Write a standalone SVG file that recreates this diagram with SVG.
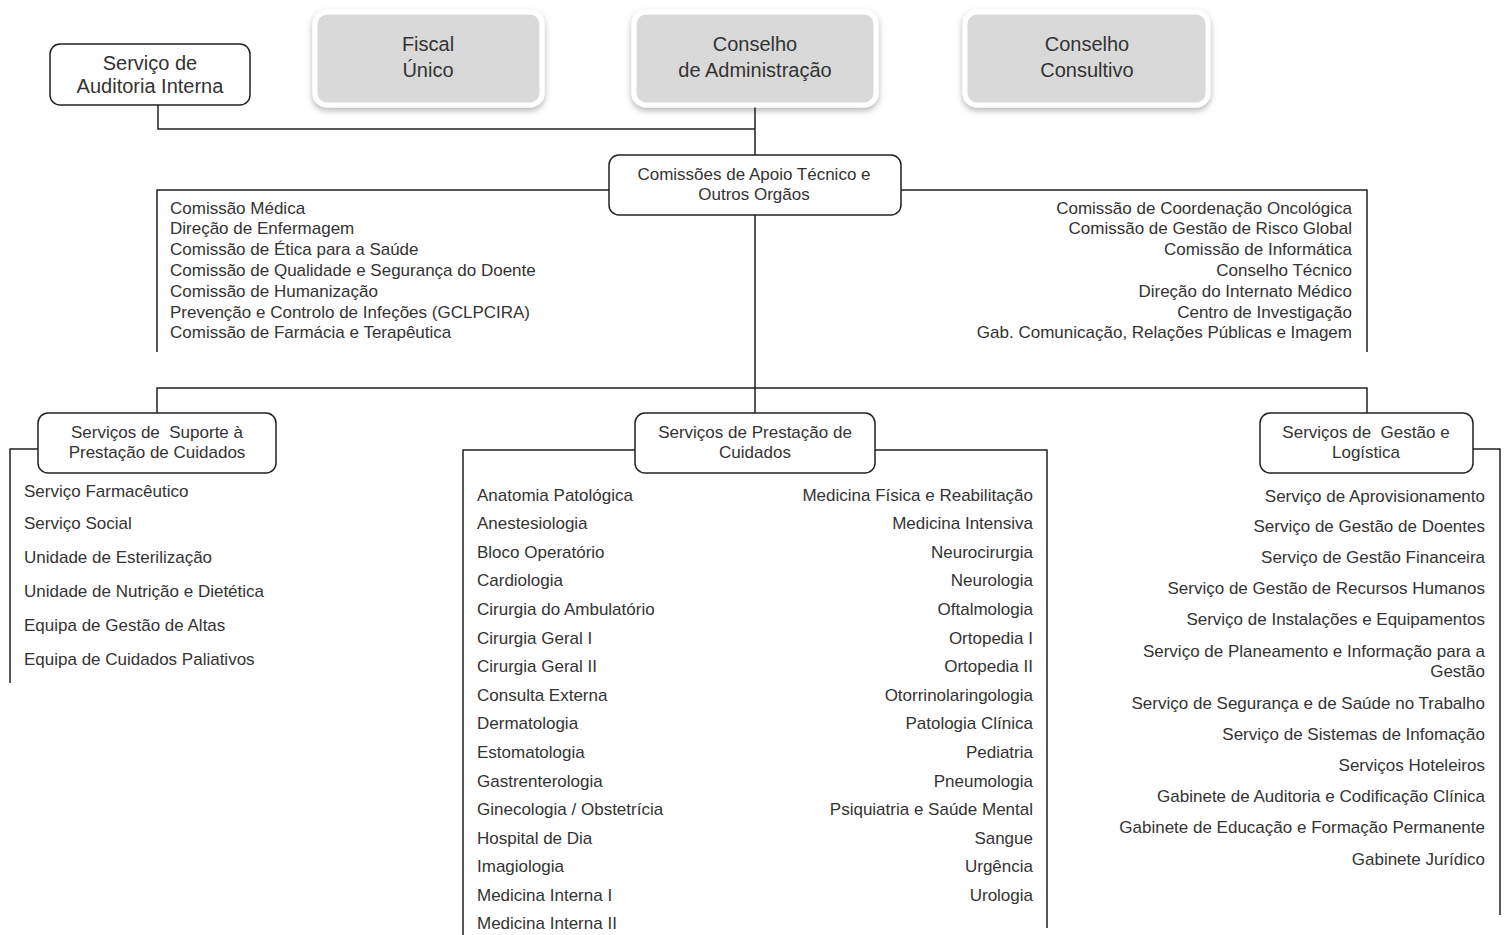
<svg xmlns="http://www.w3.org/2000/svg" width="1505" height="935" viewBox="0 0 1505 935">
<defs>
<filter id="sh" x="-10%" y="-10%" width="120%" height="130%">
<feDropShadow dx="0" dy="3" stdDeviation="3" flood-color="#000" flood-opacity="0.3"/>
</filter>
<style>
.t{font-family:"Liberation Sans",Arial,sans-serif;fill:#333;}
.big{font-size:20px;text-anchor:middle;}
.bx{font-size:17px;text-anchor:middle;}
.ls{font-size:17px;}
.r{text-anchor:end;}
.pre{white-space:pre;}
.node{fill:#fff;stroke:#222;stroke-width:1.5;}
.grey{fill:#d9d9d9;stroke:#fff;stroke-width:5;filter:url(#sh);}
.conn{fill:none;stroke:#222;stroke-width:1.5;}
</style>
</defs>
<rect width="1505" height="935" fill="#fff"/>

<g id="connectors">
<path class="conn" d="M158,105 V129 H755"/>
<path class="conn" d="M755,105 V155"/>
<path class="conn" d="M609,190 H157 V352"/>
<path class="conn" d="M901,190 H1367 V352"/>
<path class="conn" d="M755,215 V413"/>
<path class="conn" d="M157,413 V388 H1367 V413"/>
<path class="conn" d="M38,449 H10 V683"/>
<path class="conn" d="M635,450 H463 V935"/>
<path class="conn" d="M875,450 H1047 V928"/>
<path class="conn" d="M1473,449 H1500 V915"/>
</g>

<g id="auditoria">
<rect class="node" x="50" y="44" width="200" height="61" rx="10"/>
<text class="t big" x="150" y="70">Serviço de</text>
<text class="t big" x="150" y="93">Auditoria Interna</text>
</g>

<g id="fiscal">
<rect class="grey" x="315" y="12" width="227" height="93" rx="12"/>
<text class="t big" x="428" y="51">Fiscal</text>
<text class="t big" x="428" y="77">Único</text>
</g>

<g id="conselho-admin">
<rect class="grey" x="634" y="12" width="242" height="93" rx="12"/>
<text class="t big" x="755" y="51">Conselho</text>
<text class="t big" x="755" y="77">de Administração</text>
</g>

<g id="conselho-consultivo">
<rect class="grey" x="965" y="12" width="243" height="93" rx="12"/>
<text class="t big" x="1087" y="51">Conselho</text>
<text class="t big" x="1087" y="77">Consultivo</text>
</g>

<g id="comissoes">
<rect class="node" x="609" y="155" width="292" height="60" rx="10"/>
<text class="t bx" x="754" y="180">Comissões de Apoio Técnico e</text>
<text class="t bx" x="754" y="200">Outros Orgãos</text>
</g>

<g id="comissoes-esq">
<text class="t ls" x="170" y="214">Comissão Médica</text>
<text class="t ls" x="170" y="234">Direção de Enfermagem</text>
<text class="t ls" x="170" y="255">Comissão de Ética para a Saúde</text>
<text class="t ls" x="170" y="276">Comissão de Qualidade e Segurança do Doente</text>
<text class="t ls" x="170" y="297">Comissão de Humanização</text>
<text class="t ls" x="170" y="318">Prevenção e Controlo de Infeções (GCLPCIRA)</text>
<text class="t ls" x="170" y="338">Comissão de Farmácia e Terapêutica</text>
</g>

<g id="comissoes-dir">
<text class="t ls r" x="1352" y="214">Comissão de Coordenação Oncológica</text>
<text class="t ls r" x="1352" y="234">Comissão de Gestão de Risco Global</text>
<text class="t ls r" x="1352" y="255">Comissão de Informática</text>
<text class="t ls r" x="1352" y="276">Conselho Técnico</text>
<text class="t ls r" x="1352" y="297">Direção do Internato Médico</text>
<text class="t ls r" x="1352" y="318">Centro de Investigação</text>
<text class="t ls r" x="1352" y="338">Gab. Comunicação, Relações Públicas e Imagem</text>
</g>

<g id="suporte">
<rect class="node" x="38" y="413" width="238" height="60" rx="10"/>
<text class="t bx pre" x="157" y="438">Serviços de  Suporte à</text>
<text class="t bx" x="157" y="458">Prestação de Cuidados</text>
<text class="t ls" x="24" y="497">Serviço Farmacêutico</text>
<text class="t ls" x="24" y="529">Serviço Social</text>
<text class="t ls" x="24" y="563">Unidade de Esterilização</text>
<text class="t ls" x="24" y="597">Unidade de Nutrição e Dietética</text>
<text class="t ls" x="24" y="631">Equipa de Gestão de Altas</text>
<text class="t ls" x="24" y="665">Equipa de Cuidados Paliativos</text>
</g>

<g id="prestacao">
<rect class="node" x="635" y="413" width="240" height="60" rx="10"/>
<text class="t bx" x="755" y="438">Serviços de Prestação de</text>
<text class="t bx" x="755" y="458">Cuidados</text>
<text class="t ls" x="477" y="501">Anatomia Patológica</text>
<text class="t ls" x="477" y="529">Anestesiologia</text>
<text class="t ls" x="477" y="558">Bloco Operatório</text>
<text class="t ls" x="477" y="586">Cardiologia</text>
<text class="t ls" x="477" y="615">Cirurgia do Ambulatório</text>
<text class="t ls" x="477" y="644">Cirurgia Geral I</text>
<text class="t ls" x="477" y="672">Cirurgia Geral II</text>
<text class="t ls" x="477" y="701">Consulta Externa</text>
<text class="t ls" x="477" y="729">Dermatologia</text>
<text class="t ls" x="477" y="758">Estomatologia</text>
<text class="t ls" x="477" y="787">Gastrenterologia</text>
<text class="t ls" x="477" y="815">Ginecologia / Obstetrícia</text>
<text class="t ls" x="477" y="844">Hospital de Dia</text>
<text class="t ls" x="477" y="872">Imagiologia</text>
<text class="t ls" x="477" y="901">Medicina Interna I</text>
<text class="t ls" x="477" y="929">Medicina Interna II</text>
<text class="t ls r" x="1033" y="501">Medicina Física e Reabilitação</text>
<text class="t ls r" x="1033" y="529">Medicina Intensiva</text>
<text class="t ls r" x="1033" y="558">Neurocirurgia</text>
<text class="t ls r" x="1033" y="586">Neurologia</text>
<text class="t ls r" x="1033" y="615">Oftalmologia</text>
<text class="t ls r" x="1033" y="644">Ortopedia I</text>
<text class="t ls r" x="1033" y="672">Ortopedia II</text>
<text class="t ls r" x="1033" y="701">Otorrinolaringologia</text>
<text class="t ls r" x="1033" y="729">Patologia Clínica</text>
<text class="t ls r" x="1033" y="758">Pediatria</text>
<text class="t ls r" x="1033" y="787">Pneumologia</text>
<text class="t ls r" x="1033" y="815">Psiquiatria e Saúde Mental</text>
<text class="t ls r" x="1033" y="844">Sangue</text>
<text class="t ls r" x="1033" y="872">Urgência</text>
<text class="t ls r" x="1033" y="901">Urologia</text>
</g>

<g id="gestao">
<rect class="node" x="1260" y="413" width="213" height="60" rx="10"/>
<text class="t bx pre" x="1366" y="438">Serviços de  Gestão e</text>
<text class="t bx" x="1366" y="458">Logística</text>
<text class="t ls r" x="1485" y="502">Serviço de Aprovisionamento</text>
<text class="t ls r" x="1485" y="532">Serviço de Gestão de Doentes</text>
<text class="t ls r" x="1485" y="563">Serviço de Gestão Financeira</text>
<text class="t ls r" x="1485" y="594">Serviço de Gestão de Recursos Humanos</text>
<text class="t ls r" x="1485" y="625">Serviço de Instalações e Equipamentos</text>
<text class="t ls r" x="1485" y="657">Serviço de Planeamento e Informação para a</text>
<text class="t ls r" x="1485" y="677">Gestão</text>
<text class="t ls r" x="1485" y="709">Serviço de Segurança e de Saúde no Trabalho</text>
<text class="t ls r" x="1485" y="740">Serviço de Sistemas de Infomação</text>
<text class="t ls r" x="1485" y="771">Serviços Hoteleiros</text>
<text class="t ls r" x="1485" y="802">Gabinete de Auditoria e Codificação Clínica</text>
<text class="t ls r" x="1485" y="833">Gabinete de Educação e Formação Permanente</text>
<text class="t ls r" x="1485" y="865">Gabinete Jurídico</text>
</g>
</svg>
